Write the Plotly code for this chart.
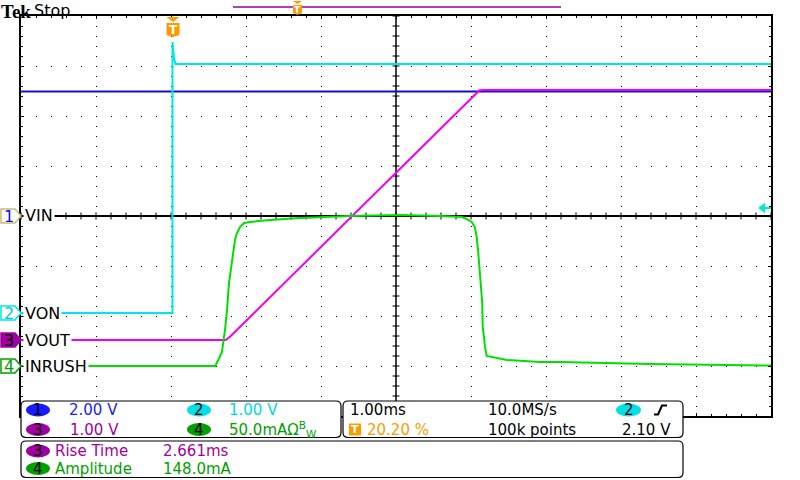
import numpy as np
import plotly.graph_objects as go

W, H = 800, 480
X0, X1 = 21, 771          # graticule pixel edges
Y0, Y1 = 16, 416

# ---- time base / channel settings ----
T_MIN, T_MAX = -2.02, 7.98            # ms (1.00 ms/div, trigger at 20.20 %)
TRIG_POS = 0.202
TRIG_LEVEL = 2.10                      # V on ch2
CH_NAMES = ["VIN", "VON", "VOUT", "INRUSH"]
CH_SCALE = [2.0, 1.0, 1.0, 50.0]       # V/div, V/div, V/div, mA/div
CH_OFFSET = [0.0, -1.94, -2.48, -3.0]  # divisions

# ---- waveform data (time in ms) ----
vin_t = [-2.02, 7.98]
vin_v = [4.98, 4.98]

von_t = [-2.02, 0.0, 0.0, 0.02, 0.04, 7.98]
von_v = [0.0, 0.0, 5.42, 5.10, 4.98, 4.98]

vout_t = [-2.02, 0.71, 0.77, 2.0, 3.0, 4.09, 4.14, 7.98]
vout_v = [0.0, 0.0, 0.07, 1.89, 3.37, 4.99, 5.0, 5.0]

inrush_t = [-2.02, 0.57, 0.61, 0.66, 0.70, 0.727, 0.753, 0.78, 0.807, 0.833, 0.86, 0.90,
            0.953, 1.033, 1.30, 1.70, 2.37, 3.03, 3.57, 3.86, 3.92, 3.99, 4.03, 4.056,
            4.077, 4.10, 4.113, 4.13, 4.136, 4.153, 4.167, 4.19, 4.27, 4.46, 4.90, 5.17,
            6.37, 7.98]
inrush_ma = [0, 0, 6, 14, 36, 56, 83, 99, 116, 126, 133, 139, 143, 144, 146, 148, 150,
             151, 150, 149, 147, 144, 139, 129, 113, 96, 79, 63, 39, 29, 19, 10, 9, 6, 4,
             4, 2, 0.5]

# ---- readouts ----
ch_readout = ["2.00 V", "1.00 V", "1.00 V", "50.0mAΩ<sup>B</sup><sub>W</sub>"]
horiz_readout = ["1.00ms", "10.0MS/s", "20.20 %", "100k points", "2.10 V"]
meas_names = ["Rise Time", "Amplitude"]
meas_values = ["2.661ms", "148.0mA"]

TRACE_COL = ["#1010c8", "#00e6e6", "#f000f0", "#00e000"]
TEXT_COL = ["#2020ff", "#00d8e0", "#a000a0", "#00a000"]
OVAL_COL = ["#1a1aff", "#00e0e6", "#a000a0", "#00a000"]
ORANGE = "#ff9900"
FONT = "DejaVu Sans"


def fx(x):
    return x / W


def fy(y):
    return 1 - y / H


def d2py(d):
    return Y0 + (4 - d) / 8 * (Y1 - Y0)


def to_div(vals, ch):
    return np.asarray(vals, float) / CH_SCALE[ch] + CH_OFFSET[ch]


fig = go.Figure()

# center cross-hair tick marks
ct = np.round(np.arange(T_MIN, T_MAX + 1e-9, 0.2), 4)
fig.add_trace(go.Scatter(x=ct, y=np.zeros_like(ct), mode="markers", hoverinfo="skip",
                         marker=dict(symbol="line-ns", size=5, line=dict(width=1, color="black"))))
cy = np.round(np.arange(-4, 4 + 1e-9, 0.2), 4)
tc = T_MIN + 5
fig.add_trace(go.Scatter(x=np.full_like(cy, tc), y=cy, mode="markers", hoverinfo="skip",
                         marker=dict(symbol="line-ew", size=5, line=dict(width=1, color="black"))))

# waveforms
series = [(vin_t, vin_v), (von_t, von_v), (vout_t, vout_v), (inrush_t, inrush_ma)]
for ch, (tt, vv) in enumerate(series):
    fig.add_trace(go.Scatter(x=tt, y=to_div(vv, ch), mode="lines", name=CH_NAMES[ch],
                             line=dict(color=TRACE_COL[ch], width=2)))

# trigger level indicator (ch2)
lvl = TRIG_LEVEL / CH_SCALE[1] + CH_OFFSET[1]
fig.add_trace(go.Scatter(x=[7.86, 7.98], y=[lvl, lvl], mode="lines", hoverinfo="skip",
                         line=dict(color=TRACE_COL[1], width=2)))
fig.add_trace(go.Scatter(x=[7.87], y=[lvl], mode="markers", hoverinfo="skip",
                         marker=dict(symbol="triangle-left", size=9, color=TRACE_COL[1])))

shapes = []
annots = []

# center vertical line
shapes.append(dict(type="line", xref="x", yref="y", x0=tc, x1=tc, y0=-4, y1=4,
                   line=dict(color="black", width=1.5), layer="below"))

# top status line
shapes.append(dict(type="line", xref="paper", yref="paper", x0=fx(233), x1=fx(561),
                   y0=fy(7), y1=fy(7), line=dict(color="#990099", width=1.5)))


def t_marker(cx, ytop, w, tri_h, box_h, size):
    hw = w / 2
    tri = (f"M{fx(cx-hw)},{fy(ytop)} L{fx(cx+hw)},{fy(ytop)} L{fx(cx)},{fy(ytop+tri_h)} Z")
    shapes.append(dict(type="path", xref="paper", yref="paper", path=tri,
                       fillcolor=ORANGE, line=dict(width=0)))
    b0 = ytop + tri_h + 1
    b1 = b0 + box_h
    box = (f"M{fx(cx-hw)},{fy(b0)} L{fx(cx+hw)},{fy(b0)} L{fx(cx+hw)},{fy(b1-2)} "
           f"L{fx(cx)},{fy(b1)} L{fx(cx-hw)},{fy(b1-2)} Z")
    shapes.append(dict(type="path", xref="paper", yref="paper", path=box,
                       fillcolor=ORANGE, line=dict(width=0)))
    annots.append(dict(x=fx(cx), y=fy((b0 + b1) / 2), xref="paper", yref="paper",
                       text="<b>T</b>", showarrow=False, xanchor="center", yanchor="middle",
                       font=dict(family=FONT, size=size, color="white")))


trig_px = X0 + TRIG_POS * (X1 - X0)
t_marker(trig_px + 0.5, 17, 13, 5, 14, 12)
t_marker(297.5, 1, 9, 3, 10, 9)

# Tek Stop
annots.append(dict(x=0, y=1, xref="paper", yref="paper", text="<b>Tek</b>",
                   showarrow=False, xanchor="left", yanchor="top", borderpad=0,
                   font=dict(family="Liberation Serif", size=19, color="black")))
annots.append(dict(x=fx(33), y=1, xref="paper", yref="paper", text="Stop",
                   showarrow=False, xanchor="left", yanchor="top", borderpad=0,
                   font=dict(family=FONT, size=16, color="black")))

# channel ground markers + labels
mark_fill = ["white", "white", "#a000a0", "white"]
mark_line = ["#c8bc78", TRACE_COL[1], "#a000a0", "#00a000"]
mark_txt = ["#1010e0", "#00c8d8", "black", "#00a000"]
for ch in range(4):
    yc = d2py(CH_OFFSET[ch])
    p = (f"M{fx(1)},{fy(yc-7)} L{fx(15)},{fy(yc-7)} L{fx(21)},{fy(yc)} "
         f"L{fx(15)},{fy(yc+7)} L{fx(1)},{fy(yc+7)} Z")
    shapes.append(dict(type="path", xref="paper", yref="paper", path=p,
                       fillcolor=mark_fill[ch], line=dict(color=mark_line[ch], width=1.5)))
    annots.append(dict(x=fx(9), y=fy(yc + 0.5), xref="paper", yref="paper", text=str(ch + 1),
                       showarrow=False, xanchor="center", yanchor="middle",
                       font=dict(family=FONT, size=16, color=mark_txt[ch])))
    annots.append(dict(x=fx(23), y=fy(yc), xref="paper", yref="paper", text=CH_NAMES[ch],
                       showarrow=False, xanchor="left", yanchor="middle", bgcolor="white",
                       borderpad=1, font=dict(family=FONT, size=16, color="black")))


# bottom panels
def rrect(x0, y0, x1, y1, r=5):
    return (f"M{fx(x0+r)},{fy(y0)} L{fx(x1-r)},{fy(y0)} Q{fx(x1)},{fy(y0)} {fx(x1)},{fy(y0+r)} "
            f"L{fx(x1)},{fy(y1-r)} Q{fx(x1)},{fy(y1)} {fx(x1-r)},{fy(y1)} "
            f"L{fx(x0+r)},{fy(y1)} Q{fx(x0)},{fy(y1)} {fx(x0)},{fy(y1-r)} "
            f"L{fx(x0)},{fy(y0+r)} Q{fx(x0)},{fy(y0)} {fx(x0+r)},{fy(y0)} Z")


for (a, b, c, d) in [(21, 401, 341, 437.5), (343, 401, 683, 437.5), (21, 441, 683, 477.5)]:
    shapes.append(dict(type="path", xref="paper", yref="paper", path=rrect(a, b, c, d),
                       fillcolor="white", line=dict(color="black", width=1.2), layer="above"))

ROWS = [410, 429.5, 451, 468.5]


def oval(x0, x1, yc, col, label, tcol="black"):
    shapes.append(dict(type="circle", xref="paper", yref="paper", x0=fx(x0), x1=fx(x1),
                       y0=fy(yc - 6.5), y1=fy(yc + 6.5), fillcolor=col, line=dict(width=0),
                       layer="above"))
    annots.append(dict(x=fx((x0 + x1) / 2), y=fy(yc), xref="paper", yref="paper",
                       text=label, showarrow=False, xanchor="center", yanchor="middle",
                       font=dict(family=FONT, size=15, color=tcol)))


def txt(x, yc, s, col):
    annots.append(dict(x=fx(x), y=fy(yc), xref="paper", yref="paper", text=s,
                       showarrow=False, xanchor="left", yanchor="middle", borderpad=0,
                       font=dict(family=FONT, size=15, color=col)))


# channel scale readouts
pos = [(26, 50, 68, ROWS[0]), (187, 211, 228, ROWS[0]), (26, 50, 69, ROWS[1]), (187, 211, 228, ROWS[1])]
for ch in range(4):
    o0, o1, tx, yc = pos[ch]
    oval(o0, o1, yc, OVAL_COL[ch], str(ch + 1))
    txt(tx, yc, ch_readout[ch], TEXT_COL[ch])

# horizontal / trigger readouts
txt(349, ROWS[0], horiz_readout[0], "black")
txt(487, ROWS[0], horiz_readout[1], "black")
oval(616, 641, ROWS[0], OVAL_COL[1], "2")
shapes.append(dict(type="path", xref="paper", yref="paper", layer="above",
                   path=f"M{fx(654)},{fy(414.5)} L{fx(658)},{fy(414.5)} L{fx(662)},{fy(405.5)} L{fx(667)},{fy(405.5)}",
                   line=dict(color="black", width=2)))
shapes.append(dict(type="rect", xref="paper", yref="paper", x0=fx(349), x1=fx(361),
                   y0=fy(435.5), y1=fy(423.5), fillcolor=ORANGE, line=dict(width=0), layer="above"))
annots.append(dict(x=fx(355), y=fy(429.5), xref="paper", yref="paper", text="<b>T</b>",
                   showarrow=False, xanchor="center", yanchor="middle",
                   font=dict(family=FONT, size=11, color="white")))
txt(366, ROWS[1], horiz_readout[2], ORANGE)
txt(487, ROWS[1], horiz_readout[3], "black")
txt(621, ROWS[1], horiz_readout[4], "black")

# measurements
for i, ch in enumerate([2, 3]):
    yc = ROWS[2 + i]
    oval(26, 50, yc, OVAL_COL[ch], str(ch + 1))
    txt(54, yc, meas_names[i], TEXT_COL[ch])
    txt(162, yc, meas_values[i], TEXT_COL[ch])

axis_common = dict(showline=True, linecolor="black", linewidth=1.5, mirror="allticks",
                   ticks="inside", ticklen=3, tickcolor="black", showticklabels=False,
                   fixedrange=True)
fig.update_layout(
    width=W, height=H, margin=dict(l=0, r=0, t=0, b=0),
    paper_bgcolor="white", plot_bgcolor="white", showlegend=False,
    xaxis=dict(range=[T_MIN, T_MAX], domain=[fx(X0), fx(X1)], tick0=T_MIN, dtick=1,
               showgrid=True, gridcolor="black", gridwidth=1, griddash="1px,9px",
               zeroline=False,
               minor=dict(tick0=T_MIN, dtick=0.2, ticks="inside", ticklen=2,
                          tickcolor="black", showgrid=False),
               **axis_common),
    yaxis=dict(range=[-4, 4], domain=[1 - Y1 / H, 1 - Y0 / H], tick0=-4, dtick=1,
               showgrid=True, gridcolor="black", gridwidth=1, griddash="1px,14px",
               zeroline=True, zerolinecolor="black", zerolinewidth=1.5,
               minor=dict(tick0=-4, dtick=0.2, ticks="inside", ticklen=2,
                          tickcolor="black", showgrid=False),
               **axis_common),
    shapes=shapes, annotations=annots,
)

fig.write_html("out.html", config={"displayModeBar": False},
               post_script="document.body.style.margin='0';document.body.style.overflow='hidden';")
